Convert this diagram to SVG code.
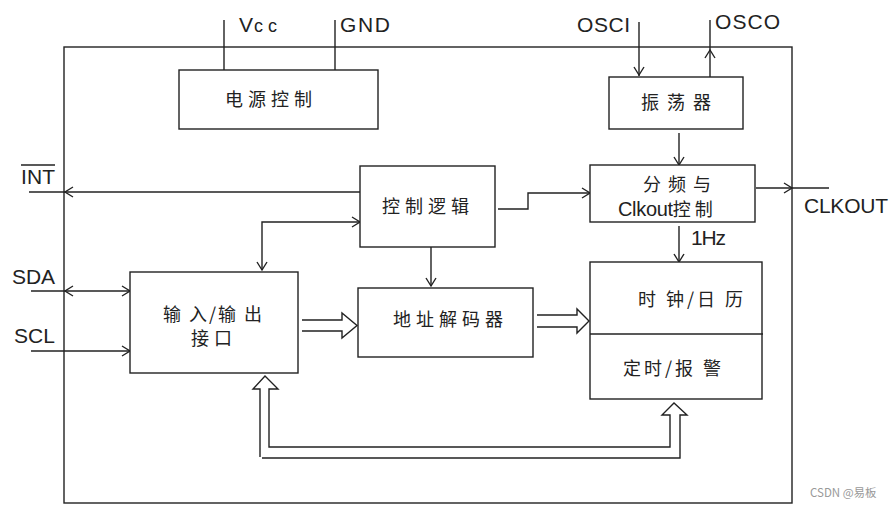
<svg xmlns="http://www.w3.org/2000/svg" width="893" height="508" viewBox="0 0 893 508">
<style>
.box{fill:#fff;stroke:#222;stroke-width:1.4}
.ln{fill:none;stroke:#222;stroke-width:1.4}
.ah{fill:none;stroke:#222;stroke-width:1.4}
.hol{fill:none;stroke:#222;stroke-width:1.4;stroke-linejoin:miter}
.cn{font-family:"Noto Sans CJK SC","Noto Sans",sans-serif;font-size:18px;fill:#222;letter-spacing:5px}
.en{font-family:"Liberation Sans",Arial,sans-serif;font-size:21px;fill:#222}
.wm{font-family:"Noto Sans CJK SC","Liberation Sans",sans-serif;font-size:11.5px;fill:#999}
</style>
<rect x="0" y="0" width="893" height="508" fill="#fff"/>
<g id="outer"><rect class="box" x="64" y="47" width="728" height="456" fill="none"/></g>

<g id="connectors">
  <!-- Vcc / GND -->
  <line class="ln" x1="224" y1="20" x2="224" y2="70"/>
  <line class="ln" x1="335" y1="20" x2="335" y2="70"/>
  <!-- OSCI -->
  <line class="ln" x1="639" y1="22" x2="639" y2="76"/>
  <path class="ah" d="M634,67 L639,75 L644,67"/>
  <!-- OSCO -->
  <line class="ln" x1="710" y1="20" x2="710" y2="77"/>
  <path class="ah" d="M705,58 L710,50 L715,58"/>
  <!-- osc to divider -->
  <line class="ln" x1="679" y1="133" x2="679" y2="165"/>
  <path class="ah" d="M674,157 L679,165 L684,157"/>
  <!-- CLKOUT -->
  <line class="ln" x1="756" y1="188" x2="829" y2="188"/>
  <path class="ah" d="M784,183 L792,188 L784,193"/>
  <!-- 1Hz -->
  <line class="ln" x1="679" y1="226" x2="679" y2="262"/>
  <path class="ah" d="M674,254 L679,262 L684,254"/>
  <!-- INT -->
  <line class="ln" x1="29" y1="192" x2="360" y2="192"/>
  <path class="ah" d="M73,187 L65,192 L73,197"/>
  <!-- logic to divider -->
  <path class="ln" d="M498,209 L528,209 L528,193 L590,193"/>
  <path class="ah" d="M582,188 L590,193 L582,198"/>
  <!-- logic <-> IO -->
  <path class="ln" d="M360,222 L262,222 L262,270"/>
  <path class="ah" d="M352,217 L360,222 L352,227"/>
  <path class="ah" d="M257,262 L262,270 L267,262"/>
  <!-- logic to address decoder -->
  <line class="ln" x1="431" y1="247" x2="431" y2="286"/>
  <path class="ah" d="M426,278 L431,286 L436,278"/>
  <!-- SDA -->
  <line class="ln" x1="31" y1="291" x2="130" y2="291"/>
  <path class="ah" d="M73,286 L65,291 L73,296"/>
  <path class="ah" d="M122,286 L130,291 L122,296"/>
  <!-- SCL -->
  <line class="ln" x1="31" y1="351" x2="130" y2="351"/>
  <path class="ah" d="M122,346 L130,351 L122,356"/>
  <!-- hollow arrows -->
  <path class="hol" d="M302,320 L342,320 L342,313 L357,325.5 L342,338 L342,331 L302,331"/>
  <path class="hol" d="M537,315 L577,315 L577,309 L589,321 L577,333 L577,327 L537,327"/>
  <path class="hol" d="M260,457 L260,389 L253,389 L265,376 L278,389 L269,389 L269,447 L670,447 L670,415 L662,415 L674,403 L687,415 L680,415 L680,458 L262,458"/>
</g>

<g id="power"><rect class="box" x="179" y="70" width="199" height="59"/>
<text class="cn" x="225" y="106">电源控制</text></g>
<g id="osc"><rect class="box" x="609" y="77" width="134" height="52"/>
<text class="cn" x="641" y="109" style="letter-spacing:8px">振荡器</text></g>
<g id="divider"><rect class="box" x="590" y="165" width="165" height="57"/>
<text class="cn" x="643" y="191" style="letter-spacing:7px">分频与</text>
<text class="cn" x="618" y="216" style="letter-spacing:0px"><tspan font-family="Liberation Sans, Arial, sans-serif" font-size="20" textLength="55" lengthAdjust="spacing">Clkout</tspan><tspan style="letter-spacing:4px">控制</tspan></text></g>
<g id="logic"><rect class="box" x="360" y="166" width="135" height="81"/>
<text class="cn" x="382" y="213">控制逻辑</text></g>
<g id="io"><rect class="box" x="130" y="272" width="168" height="101"/>
<text class="cn" x="163" y="321" style="letter-spacing:2px">输 入/输 出</text>
<text class="cn" x="191" y="345">接口</text></g>
<g id="addr"><rect class="box" x="358" y="288" width="175" height="69"/>
<text class="cn" x="393" y="326">地址解码器</text></g>
<g id="clock"><rect class="box" x="590" y="262" width="172" height="137"/>
<line class="ln" x1="590" y1="334" x2="763" y2="334"/>
<text class="cn" x="638" y="306" style="letter-spacing:3px">时 钟/日 历</text>
<text class="cn" x="623" y="375" style="letter-spacing:3px">定时/报 警</text></g>

<g id="labels">
<text class="en" x="239" y="32">V<tspan font-size="18" dx="1" textLength="23" lengthAdjust="spacing">cc</tspan></text>
<text class="en" x="340" y="32" textLength="50" lengthAdjust="spacing">GND</text>
<text class="en" x="577" y="32" textLength="53" lengthAdjust="spacing">OSCI</text>
<text class="en" x="715" y="29" textLength="65" lengthAdjust="spacing">OSCO</text>
<text class="en" x="804" y="213" textLength="84" lengthAdjust="spacing">CLKOUT</text>
<text class="en" x="691" y="245" textLength="35" lengthAdjust="spacing">1Hz</text>
<text class="en" x="21" y="184" textLength="34" lengthAdjust="spacing">INT</text>
<line class="ln" x1="21" y1="165" x2="55" y2="165"/>
<text class="en" x="12" y="284" textLength="43" lengthAdjust="spacing">SDA</text>
<text class="en" x="14" y="343" textLength="41" lengthAdjust="spacing">SCL</text>
<text class="wm" x="810" y="497">CSDN @易板</text>
</g>
</svg>
